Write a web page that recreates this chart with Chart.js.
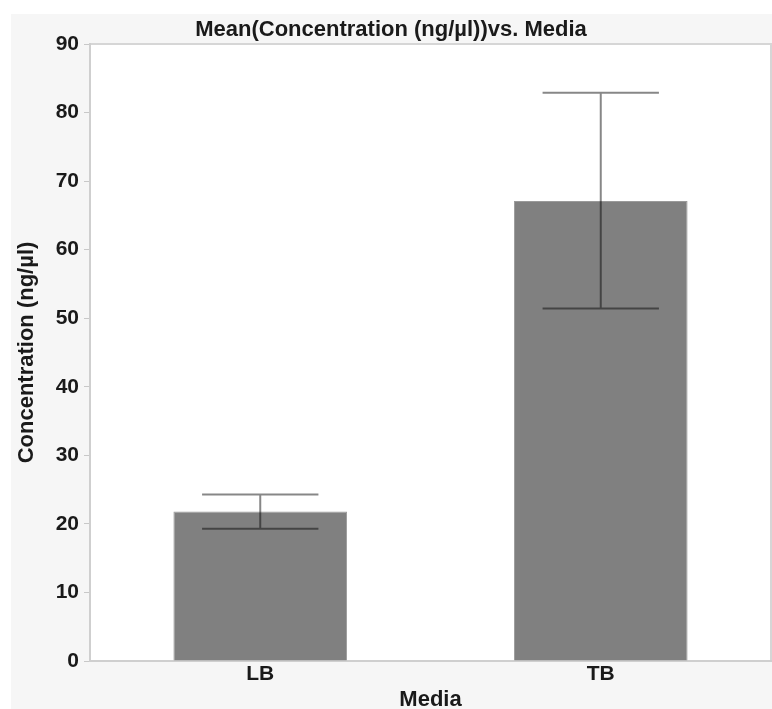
<!DOCTYPE html>
<html>
<head>
<meta charset="utf-8">
<script src="https://cdn.jsdelivr.net/npm/chart.js@4.4.1/dist/chart.umd.min.js"></script>
<style>
  html, body { margin: 0; padding: 0; background: #fff; overflow: hidden; }
  #wrap { width: 772px; height: 709px; }
  canvas { display: block; }
</style>
</head>
<body>
<div id="wrap"><canvas id="chart" width="772" height="709"></canvas></div>
<script>
// data
const media = ['LB', 'TB'];
const meanConc = [21.8, 67.1];
const errLow = [19.3, 51.4];
const errHigh = [24.3, 82.9];
const yTicks = [0, 10, 20, 30, 40, 50, 60, 70, 80, 90];

const FONT = "'Liberation Sans', Arial, sans-serif";

// grey panel + white plot area + frame
const backdrop = {
    id: 'backdrop',
    beforeDraw(chart) {
        const ctx = chart.ctx;
        const a = chart.chartArea;
        ctx.save();
        ctx.fillStyle = '#ffffff';
        ctx.fillRect(0, 0, chart.width, chart.height);
        ctx.fillStyle = '#f6f6f6';
        ctx.fillRect(11, 14, chart.width - 11, chart.height - 14);
        ctx.fillStyle = '#ffffff';
        ctx.fillRect(a.left, a.top, a.right - a.left, a.bottom - a.top);
        ctx.strokeStyle = '#d6d6d6';
        ctx.lineWidth = 2;
        ctx.beginPath();
        ctx.moveTo(a.left, a.top);
        ctx.lineTo(a.right, a.top);
        ctx.lineTo(a.right, a.bottom);
        ctx.stroke();
        ctx.restore();
    }
};

// error bars from errLow / errHigh
const errorBars = {
    id: 'errorBars',
    afterDatasetsDraw(chart) {
        const ctx = chart.ctx;
        const y = chart.scales.y;
        const meta = chart.getDatasetMeta(0);
        ctx.save();
        ctx.strokeStyle = 'rgba(0,0,0,0.47)';
        ctx.lineWidth = 2;
        meta.data.forEach((bar, i) => {
            const x = bar.x;
            const yl = y.getPixelForValue(errLow[i]);
            const yh = y.getPixelForValue(errHigh[i]);
            const half = bar.width * 0.335;
            ctx.beginPath();
            ctx.moveTo(x, yh);
            ctx.lineTo(x, yl);
            ctx.moveTo(x - half, yh);
            ctx.lineTo(x + half, yh);
            ctx.moveTo(x - half, yl);
            ctx.lineTo(x + half, yl);
            ctx.stroke();
        });
        ctx.restore();
    }
};

const ctx = document.getElementById('chart').getContext('2d');
new Chart(ctx, {
    type: 'bar',
    data: {
        labels: media,
        datasets: [{
            label: 'Concentration (ng/µl)',
            data: meanConc,
            backgroundColor: '#808080',
            borderColor: '#9a9a9a',
            borderWidth: 1,
            barPercentage: 0.51,
            categoryPercentage: 1.0
        }]
    },
    options: {
        responsive: false,
        animation: false,
        layout: { padding: { left: 11, right: 1, top: 0, bottom: 0 } },
        plugins: {
            legend: { display: false },
            tooltip: { enabled: false },
            title: {
                display: true,
                text: 'Mean(Concentration (ng/µl))vs. Media',
                color: '#1a1a1a',
                font: { family: FONT, size: 22, weight: 'bold', lineHeight: 1 },
                padding: { top: 19, bottom: 3 }
            }
        },
        scales: {
            x: {
                grid: { display: false, drawTicks: false },
                border: { display: true, color: '#cfcfcf', width: 2 },
                ticks: {
                    color: '#1a1a1a',
                    padding: 1,
                    font: { family: FONT, size: 21, weight: 'bold' }
                },
                title: {
                    display: true,
                    text: 'Media',
                    color: '#1a1a1a',
                    font: { family: FONT, size: 22, weight: 'bold', lineHeight: 1 },
                    padding: { top: 0, bottom: -2 }
                },
                afterFit(scale) { scale.height = 48; }
            },
            y: {
                min: 0,
                max: 90,
                afterBuildTicks(scale) {
                    scale.ticks = yTicks.map(v => ({ value: v }));
                },
                grid: {
                    drawOnChartArea: false,
                    drawTicks: true,
                    tickLength: 6,
                    color: '#c8c8c8',
                    tickWidth: 1
                },
                border: { display: true, color: '#cfcfcf', width: 2 },
                ticks: {
                    color: '#1a1a1a',
                    padding: 5,
                    font: { family: FONT, size: 21, weight: 'bold' }
                },
                title: {
                    display: true,
                    text: 'Concentration (ng/µl)',
                    color: '#1a1a1a',
                    font: { family: FONT, size: 22, weight: 'bold', lineHeight: 1.2 },
                    padding: { top: 3, bottom: 0 }
                },
                afterFit(scale) { scale.width = 79; }
            }
        }
    },
    plugins: [backdrop, errorBars]
});
</script>
</body>
</html>
